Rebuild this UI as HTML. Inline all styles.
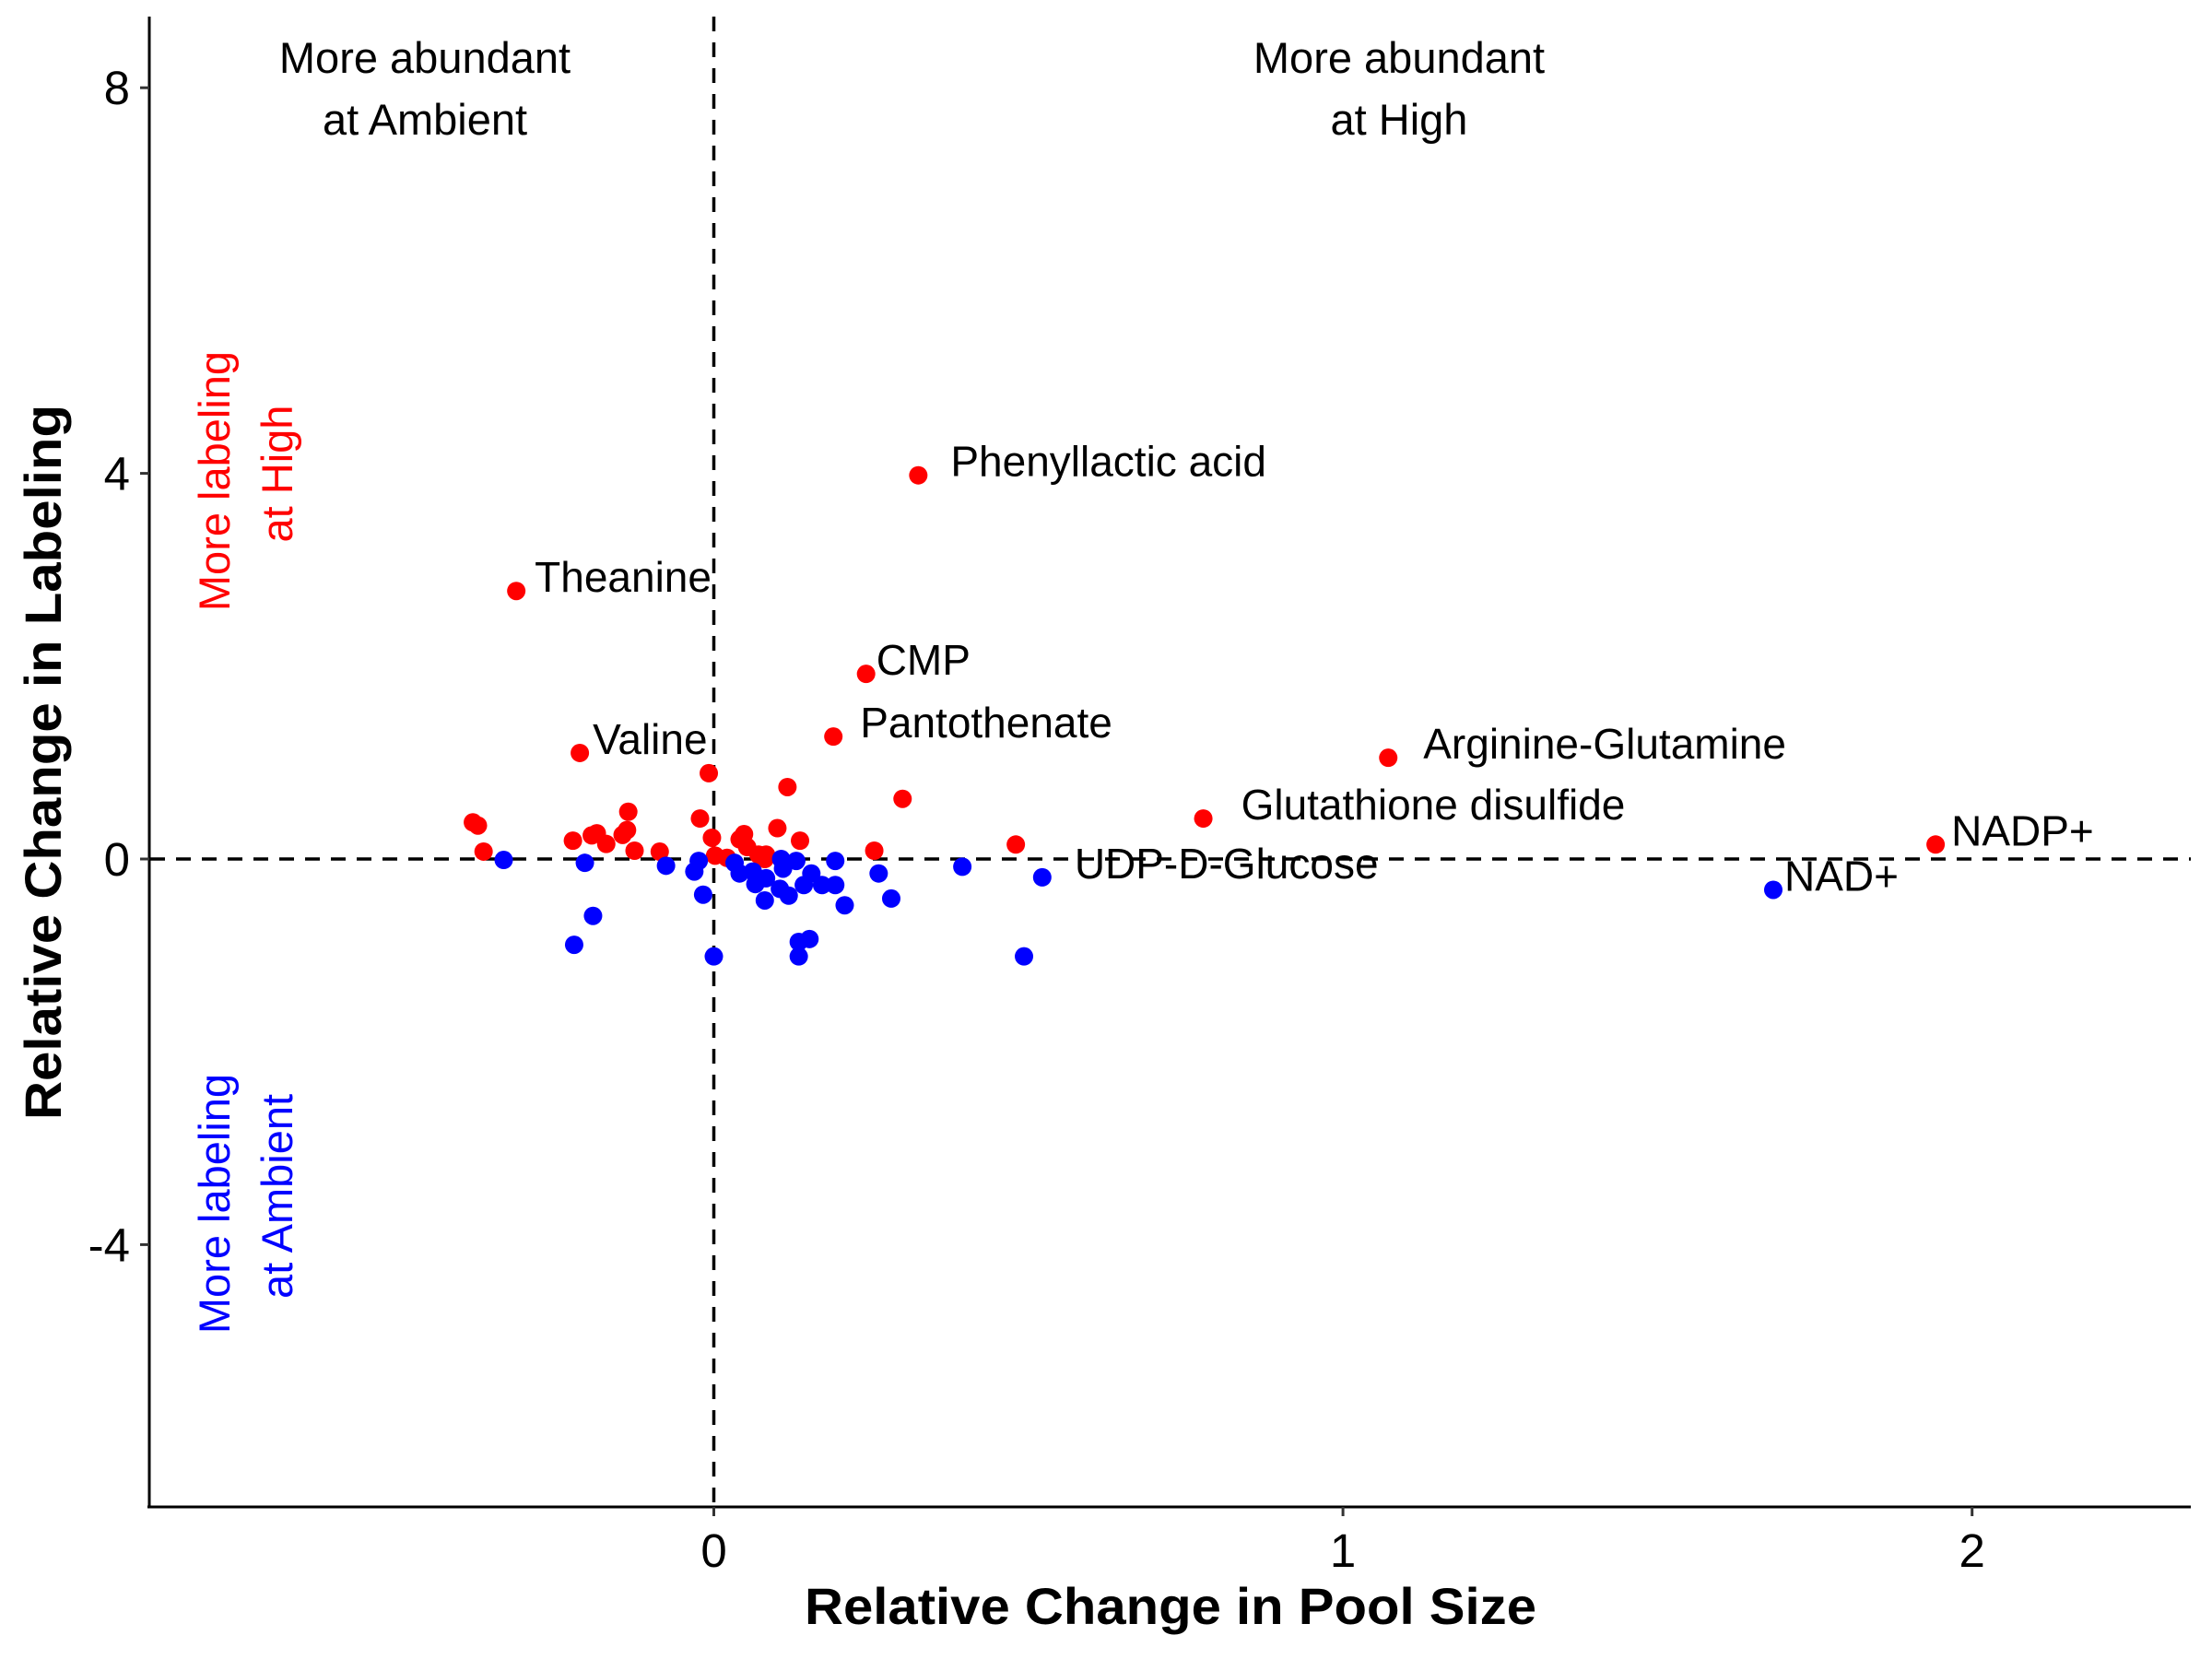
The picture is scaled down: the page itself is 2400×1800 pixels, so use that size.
<!DOCTYPE html>
<html><head><meta charset="utf-8"><style>
html,body{margin:0;padding:0;background:#fff;}
svg{display:block;font-family:"Liberation Sans",Arial,sans-serif;}
</style></head><body>
<svg id="chart" width="2400" height="1800" viewBox="0 0 2400 1800" xmlns="http://www.w3.org/2000/svg">
<g id="plot"></g>
</svg>
<script>
const redX = [0.325,-0.314,0.242,0.19,-0.213,1.072,0.778,1.942,-0.008,0.117,0.3,-0.383,-0.375,-0.366,-0.136,-0.022,-0.224,-0.194,-0.186,-0.171,-0.145,-0.138,-0.126,-0.086,-0.003,0.002,0.021,0.041,0.048,0.053,0.071,0.083,0.081,0.101,0.137,0.255,0.48];
const redY = [3.98,2.78,1.92,1.27,1.10,1.05,0.42,0.15,0.89,0.746,0.624,0.38,0.347,0.077,0.49,0.42,0.19,0.245,0.267,0.156,0.25,0.3,0.086,0.076,0.22,0.035,0.012,0.204,0.258,0.124,0.045,0.045,0.0,0.32,0.19,0.086,0.15];
const blueX = [1.684,0.522,-0.334,-0.205,-0.076,-0.024,-0.031,-0.017,-0.192,-0.222,0.0,0.033,0.041,0.062,0.066,0.083,0.107,0.11,0.105,0.119,0.131,0.081,0.155,0.143,0.172,0.193,0.193,0.208,0.262,0.282,0.152,0.135,0.135,0.395,0.493];
const blueY = [-0.32,-0.19,-0.01,-0.04,-0.07,-0.02,-0.13,-0.37,-0.59,-0.89,-1.01,-0.04,-0.15,-0.13,-0.26,-0.2,0.0,-0.1,-0.31,-0.38,-0.02,-0.43,-0.15,-0.27,-0.27,-0.27,-0.02,-0.48,-0.15,-0.41,-0.83,-0.86,-1.01,-0.08,-1.01];
const labelNames = ["Phenyllactic acid","Theanine","CMP","Pantothenate","Valine","Arginine-Glutamine","Glutathione disulfide","NADP+","NAD+","UDP-D-Glucose"];
const labelX = [0.325,-0.314,0.242,0.19,-0.213,1.072,0.778,1.942,1.684,0.522];
const labelY = [3.98,2.78,1.92,1.27,1.10,1.05,0.42,0.15,-0.32,-0.19];
const labelDx = [35,20,11,29,14,38,41,17,12,35];
const xTicks = [0,1,2];
const yTicks = [-4,0,4,8];

const X0=774.5, XS=682.6, Y0=932, YS=104.6;
const sx = v => X0 + v*XS;
const sy = v => Y0 - v*YS;
const NS="http://www.w3.org/2000/svg";
const g=document.getElementById('plot');
function mk(tag, attrs, parent){const e=document.createElementNS(NS,tag);for(const k in attrs)e.setAttribute(k,attrs[k]);(parent||g).appendChild(e);return e;}
function txt(s, attrs){const e=mk('text',attrs);e.textContent=s;return e;}

let ax=mk('line',{x1:162,y1:18,x2:162,y2:1636,stroke:'#000','stroke-width':3});


ax=mk('line',{x1:160,y1:1635,x2:2377,y2:1635,stroke:'#000','stroke-width':3});



let rl=mk('line',{x1:sx(0),y1:18,x2:sx(0),y2:1635,stroke:'#000','stroke-width':3.5,'stroke-dasharray':'16 12'});


rl=mk('line',{x1:163,y1:sy(0),x2:2377,y2:sy(0),stroke:'#000','stroke-width':3.5,'stroke-dasharray':'16 12'});



yTicks.forEach(v=>{
  const t=mk('line',{x1:152,y1:sy(v),x2:162,y2:sy(v),stroke:'#333','stroke-width':3});
  
  
  const l=txt(String(v),{x:141,y:sy(v)+18,'font-size':51,'text-anchor':'end',fill:'#000'});
  
  
});
xTicks.forEach(v=>{
  const t=mk('line',{x1:sx(v),y1:1635,x2:sx(v),y2:1645,stroke:'#333','stroke-width':3});
  
  
  const l=txt(String(v),{x:sx(v),y:1700,'font-size':51,'text-anchor':'middle',fill:'#000'});
  
  
});

redX.forEach((v,i)=>{
  const c=mk('circle',{cx:sx(v),cy:sy(redY[i]),r:10,fill:'#ff0000'});
  
  
});
blueX.forEach((v,i)=>{
  const c=mk('circle',{cx:sx(v),cy:sy(blueY[i]),r:10,fill:'#0000ff'});
  
  
});

labelNames.forEach((n,i)=>{
  const l=txt(n,{x:sx(labelX[i])+labelDx[i],y:sy(labelY[i])+1,'font-size':46,fill:'#000'});
  
  
});

function ann(s,x,y,size,fill,name,rot){
  const a={x:x,y:y,'font-size':size,fill:fill,'text-anchor':'middle'};
  if(rot)a.transform='rotate(-90 '+x+' '+y+')';
  const l=txt(s,a);
  
  
}
ann('More abundant',461,79,47,'#000','annotation-ambient-line1');
ann('at Ambient',461,146,47,'#000','annotation-ambient-line2');
ann('More abundant',1518,79,47,'#000','annotation-high-line1');
ann('at High',1518,146,47,'#000','annotation-high-line2');
ann('More labeling',249,522,47,'#ff0000','annotation-labeling-high-line1',true);
ann('at High',317,514,47,'#ff0000','annotation-labeling-high-line2',true);
ann('More labeling',249,1306,47,'#0000ff','annotation-labeling-ambient-line1',true);
ann('at Ambient',317,1298,47,'#0000ff','annotation-labeling-ambient-line2',true);

let tt=txt('Relative Change in Pool Size',{x:1270,y:1762,'font-size':56,'font-weight':'bold','text-anchor':'middle',fill:'#000',textLength:794,lengthAdjust:'spacingAndGlyphs'});


tt=txt('Relative Change in Labeling',{x:66,y:827,'font-size':56,'font-weight':'bold','text-anchor':'middle',fill:'#000',transform:'rotate(-90 66 827)',textLength:776,lengthAdjust:'spacingAndGlyphs'});


</script>
</body></html>
